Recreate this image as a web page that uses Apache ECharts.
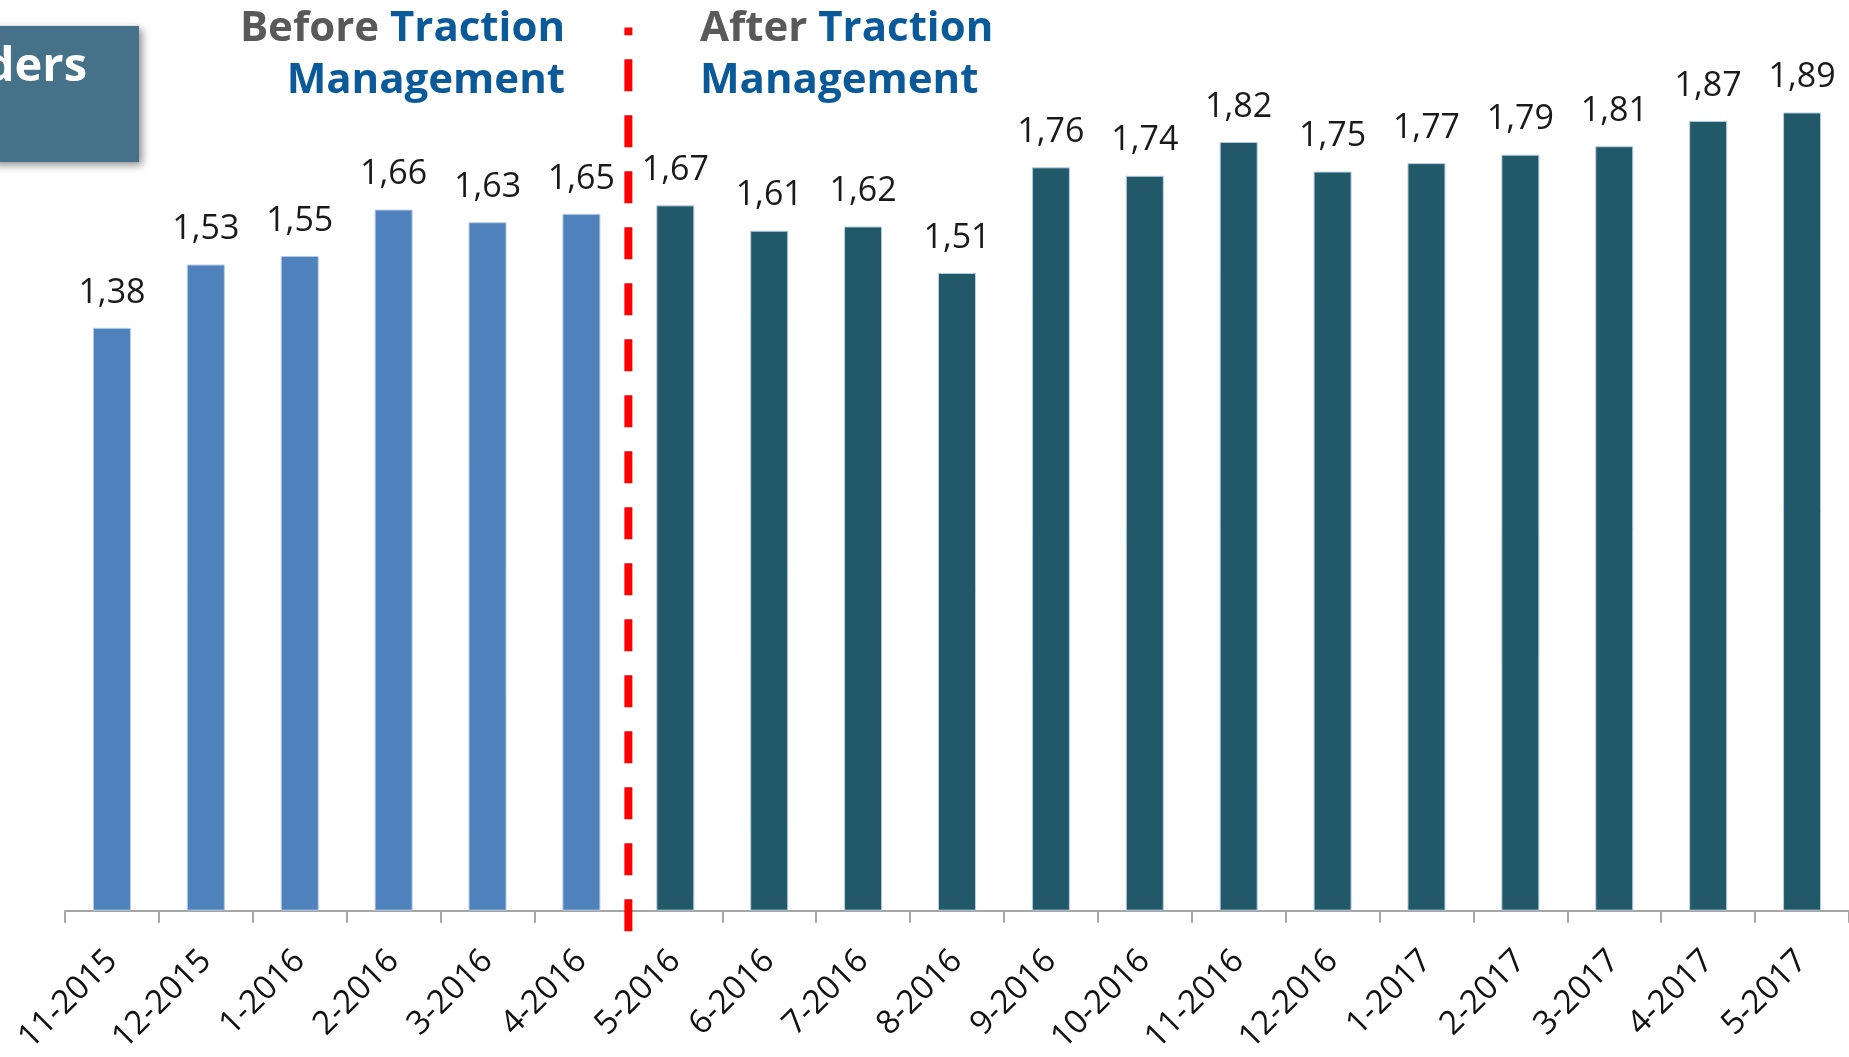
<!DOCTYPE html>
<html>
<head>
<meta charset="utf-8">
<script src="https://cdn.jsdelivr.net/npm/echarts@6/dist/echarts.min.js"></script>
<style>
  html, body { margin: 0; padding: 0; background: #ffffff; overflow: hidden; }
  #chart { width: 1849px; height: 1057px; }
</style>
</head>
<body>
<div id="chart"></div>
<script>
// ---- data ----
const categories = ['11-2015','12-2015','1-2016','2-2016','3-2016','4-2016','5-2016','6-2016','7-2016','8-2016','9-2016','10-2016','11-2016','12-2016','1-2017','2-2017','3-2017','4-2017','5-2017'];
const values = [1.38,1.53,1.55,1.66,1.63,1.65,1.67,1.61,1.62,1.51,1.76,1.74,1.82,1.75,1.77,1.79,1.81,1.87,1.89];
const beforeCount = 6;            // months before Traction Management
const dividerAt = 5.5;            // boundary between 4-2016 and 5-2016
const dividerSpan = [-0.049, 2.091];
const headingBefore = ['Before', 'Traction', 'Management'];
const headingAfter = ['After', 'Traction', 'Management'];
const boxText = 'ders';

const chart = echarts.init(document.getElementById('chart'), null, { renderer: 'canvas' });
const FONT = '"Open Sans", "Liberation Sans", sans-serif';
const HF = 'bold 42px ' + FONT;

const option = {
  animation: false,
  backgroundColor: '#ffffff',
  grid: { left: 65, right: 0, top: 66, bottom: 138, containLabel: false },
  xAxis: [{
    type: 'category',
    data: categories,
    boundaryGap: true,
    axisLine: { show: true, lineStyle: { color: '#a6a6a6', width: 2 } },
    axisTick: { show: true, length: 12, lineStyle: { color: '#a6a6a6', width: 2 } },
    axisLabel: { rotate: 45, margin: 45, color: '#111', fontSize: 33, fontFamily: FONT, interval: 0 }
  }, {
    type: 'value', min: -0.5, max: categories.length - 0.5, show: false
  }],
  yAxis: { type: 'value', min: 0, max: 2, show: false, splitLine: { show: false } },
  series: [{
    type: 'bar',
    data: values,
    barWidth: 38,
    itemStyle: {
      color: p => p.dataIndex < beforeCount ? '#4f81bd' : '#215968',
      borderColor: '#b8cce4', borderWidth: 1
    },
    label: {
      show: true, position: 'top', distance: 18,
      color: '#1a1a1a', fontSize: 34, fontFamily: FONT,
      formatter: p => p.value.toFixed(2).replace('.', ',')
    }
  }, {
    type: 'line',
    xAxisIndex: 1,
    data: [[dividerAt, dividerSpan[0]], [dividerAt, dividerSpan[1]]],
    symbol: 'none',
    clip: false,
    silent: true,
    lineStyle: { color: '#ff0000', width: 8, type: [32, 24], cap: 'butt' },
    z: 5
  }],
  graphic: [
    { type: 'rect', shape: { x: -10, y: 26, width: 149, height: 136 },
      style: { fill: '#457289', shadowBlur: 8, shadowOffsetX: 3, shadowOffsetY: 3, shadowColor: 'rgba(0,0,0,0.45)' }, z: 10 },
    { type: 'text', x: 87, y: 44, z: 11,
      style: { text: boxText, fill: '#ffffff', font: 'bold 47px ' + FONT, align: 'right', verticalAlign: 'top' } },
    { type: 'text', x: 565, y: 8, z: 11,
      style: { text: '{g|' + headingBefore[0] + '} {b|' + headingBefore[1] + '}', align: 'right', verticalAlign: 'top',
        font: HF,
        rich: { g: { fill: '#595959', font: HF }, b: { fill: '#0a5a9a', font: HF } } } },
    { type: 'text', x: 565, y: 60, z: 11,
      style: { text: headingBefore[2], fill: '#0a5a9a', font: HF, align: 'right', verticalAlign: 'top' } },
    { type: 'text', x: 700, y: 8, z: 11,
      style: { text: '{g|' + headingAfter[0] + '} {b|' + headingAfter[1] + '}', align: 'left', verticalAlign: 'top',
        font: HF,
        rich: { g: { fill: '#595959', font: HF }, b: { fill: '#0a5a9a', font: HF } } } },
    { type: 'text', x: 700, y: 60, z: 11,
      style: { text: headingAfter[2], fill: '#0a5a9a', font: HF, align: 'left', verticalAlign: 'top' } }
  ]
};
chart.setOption(option);
</script>
</body>
</html>
